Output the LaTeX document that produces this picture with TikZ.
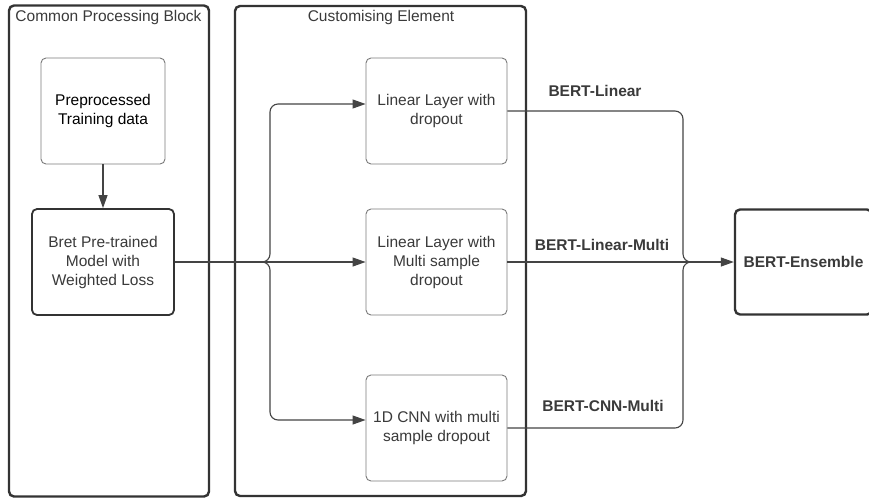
\documentclass[tikz,border=0pt]{standalone}
\usepackage{fontspec}
\setmainfont{Liberation Sans}
\usetikzlibrary{arrows.meta,calc}
\definecolor{frame}{HTML}{333333}
\definecolor{thin}{HTML}{7A7A7A}
\definecolor{txt}{HTML}{3A3A3A}
\definecolor{conn}{HTML}{444444}
\begin{document}
\begin{tikzpicture}[x=1pt,y=-1pt,
  font=\fontsize{15.5}{19}\selectfont,
  container/.style={draw=frame,line width=2.4pt,rounded corners=5pt},
  title/.style={text=txt,inner sep=0pt},
  lightbox/.style={draw=thin,line width=0.9pt,rounded corners=5pt,align=center,text=txt,inner sep=2pt},
  darkbox/.style={draw=frame,line width=1.8pt,rounded corners=5pt,align=center,text=txt,inner sep=2pt},
  wire/.style={draw=conn,line width=1.1pt},
  arr/.style={wire,-{Triangle[length=13pt,width=9pt]}},
  lbl/.style={font=\fontsize{15.5}{19}\selectfont\bfseries,text=txt,inner sep=0pt}]
\useasboundingbox (0,0) rectangle (869,499);
\fill[white] (0,0) rectangle (869,499);
% containers
\node[container,minimum width=200pt,minimum height=491pt] (cpb) at (109,251) {};
\node[container,minimum width=291pt,minimum height=490pt] (ce) at (380.5,251) {};
\node[title] (cpbt) at (108.5,17) {Common Processing Block};
\node[title] (cet) at (381,17) {Customising Element};
% boxes
\node[lightbox,minimum width=124pt,minimum height=106pt,text=black] (prep) at (103,111) {Preprocessed\\Training data};
\node[darkbox,minimum width=142pt,minimum height=106pt] (bret) at (103,262) {Bret Pre-trained\\Model with\\Weighted Loss};
\node[lightbox,minimum width=141pt,minimum height=106pt] (lin) at (436.5,111) {Linear Layer with\\dropout};
\node[lightbox,minimum width=141pt,minimum height=106pt] (linm) at (436.5,262) {Linear Layer with\\Multi sample\\dropout};
\node[lightbox,minimum width=141pt,minimum height=106pt] (cnn) at (436.5,428) {1D CNN with multi\\sample dropout};
\node[container,minimum width=137pt,minimum height=105pt,text=txt,font=\fontsize{15.5}{19}\selectfont\bfseries] (ens) at (803.5,262) {BERT-Ensemble};
% arrows left
\draw[arr] (prep.south) -- (bret.north);
\coordinate (fj) at (262,262);
\coordinate (ft) at (270,104);
\coordinate (fb) at (270,420);
\draw[arr] (bret.east) -- (linm.west);
\draw[arr,rounded corners=8pt] (fj) -| (ft) -- (ft -| lin.west);
\draw[arr,rounded corners=8pt] (fj) -| (fb) -- (fb -| cnn.west);
% right merge
\coordinate (mj) at (691,262);
\coordinate (mc) at (683,262);
\draw[wire,rounded corners=8pt] (lin.east) -| (mc) -- (mj);
\draw[wire,rounded corners=8pt] (cnn.east) -| (mc) -- (mj);
\draw[arr] (linm.east) -- (ens.west);
% labels
\node[lbl] (l1) at (595,91) {BERT-Linear};
\node[lbl] (l2) at (602,245) {BERT-Linear-Multi};
\node[lbl] (l3) at (603,406) {BERT-CNN-Multi};
\end{tikzpicture}
\end{document}
